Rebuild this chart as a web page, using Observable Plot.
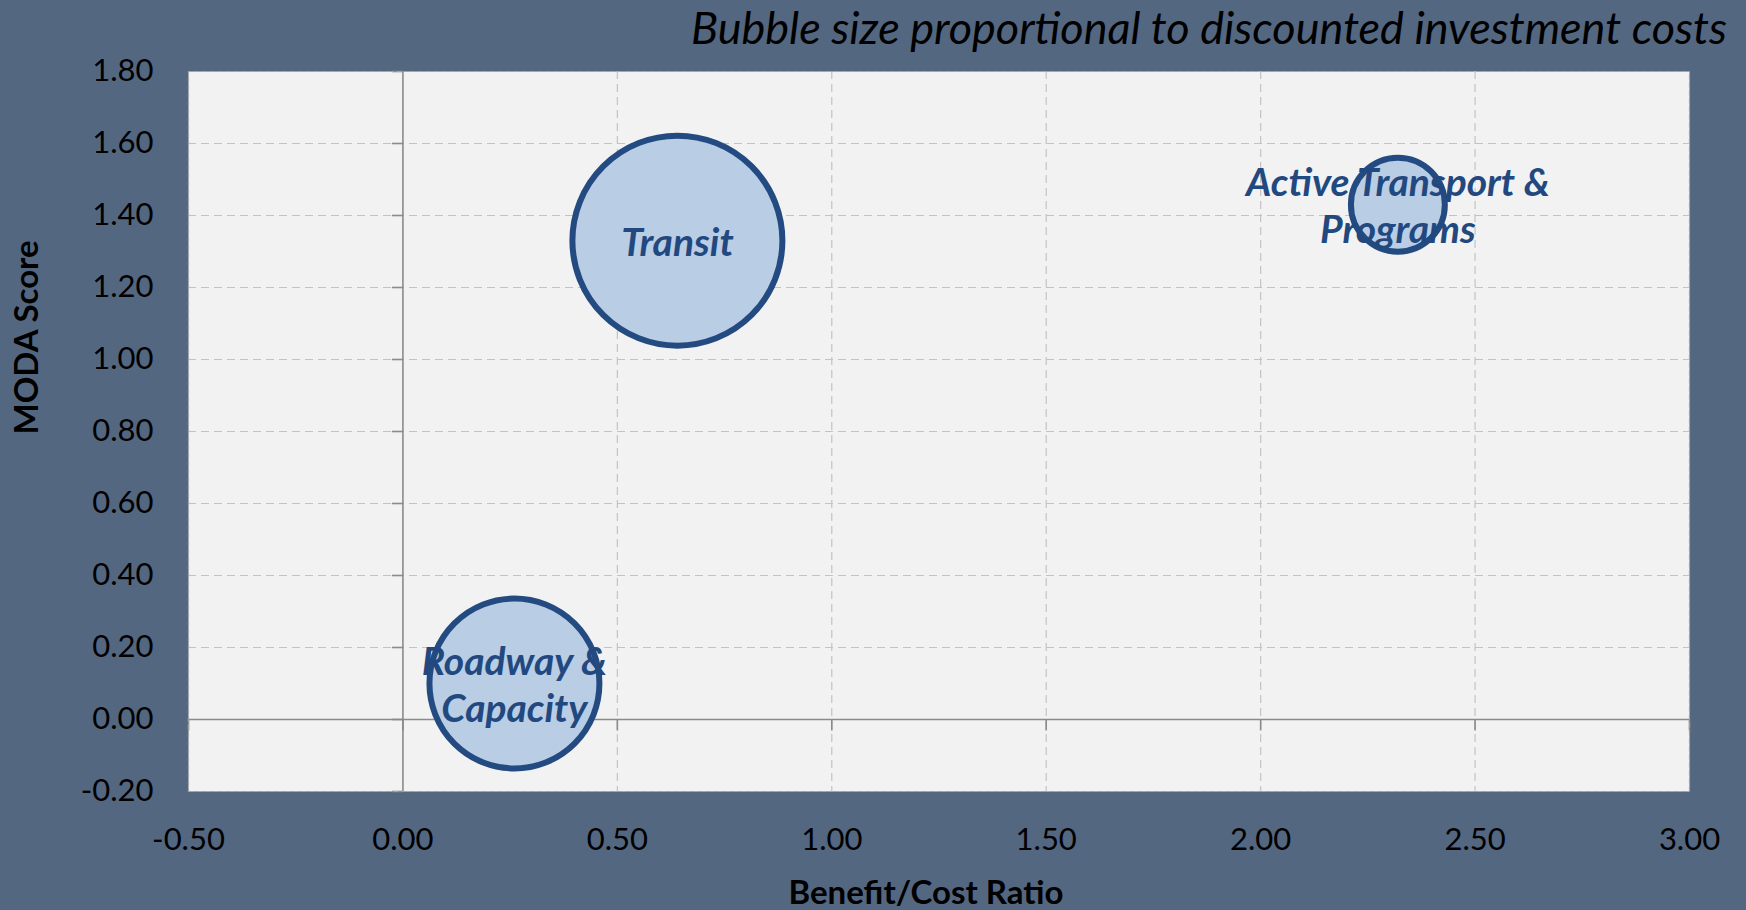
<!DOCTYPE html>
<html>
<head>
<meta charset="utf-8">
<script src="https://cdn.jsdelivr.net/npm/d3@7"></script>
<script src="https://cdn.jsdelivr.net/npm/@observablehq/plot@0.6"></script>
<style>
  html, body { margin: 0; padding: 0; background: #546780; }
  #chart { width: 1746px; height: 910px; background: #546780; overflow: hidden; }
  #title {
    height: 50px; line-height: 54px;
    font-family: Lato, sans-serif; font-style: italic; font-size: 45px;
    color: #000; text-align: right; padding-right: 19px; white-space: nowrap;
  }
</style>
</head>
<body>
<div id="chart">
  <div id="title">Bubble size proportional to discounted investment costs</div>
</div>
<script>
// Program groups and their scores
const projects = ["Transit", "Roadway &\nCapacity", "Active Transport &\nPrograms"];
const bcRatio = [0.64, 0.26, 2.32];        // benefit/cost ratio
const modaScore = [1.33, 0.10, 1.43];      // MODA score
const relativeCost = [100, 65.5, 20];      // discounted investment cost (relative)

// Axis ticks
const xTicks = [-0.5, 0, 0.5, 1, 1.5, 2, 2.5, 3];
const yTicks = [-0.2, 0, 0.2, 0.4, 0.6, 0.8, 1.0, 1.2, 1.4, 1.6, 1.8];

const rows = projects.map((name, i) => ({
  name, x: bcRatio[i], y: modaScore[i], cost: relativeCost[i]
}));

// Short cross ticks drawn on the zero axes
const leftTick = { draw(ctx) { ctx.moveTo(-11, 0); ctx.lineTo(0, 0); } };
const downTick = { draw(ctx) { ctx.moveTo(0, 0); ctx.lineTo(0, 11); } };

const gridStyle = { stroke: "#c3c3c3", strokeDasharray: "8,5", strokeWidth: 1.2 };
const zeroStyle = { stroke: "#8a8a8a", strokeWidth: 1.6 };
const fmt = d => d.toFixed(2);

const chart = Plot.plot({
  width: 1746,
  height: 860,
  marginTop: 21,
  marginBottom: 119,
  marginLeft: 188,
  marginRight: 57,
  style: { fontFamily: "Lato, sans-serif", fontSize: "31px", color: "#000", background: "transparent", overflow: "visible" },
  x: { domain: [-0.5, 3] },
  y: { domain: [-0.2, 1.8] },
  r: { type: "sqrt", domain: [0, 100], range: [0, 105] },
  marks: [
    Plot.frame({ fill: "#f2f2f2", stroke: null }),
    Plot.ruleX(xTicks.filter(d => d !== 0 && d !== -0.5 && d !== 3), gridStyle),
    Plot.ruleY(yTicks.filter(d => d !== 0 && d !== -0.2 && d !== 1.8), gridStyle),
    Plot.ruleX([0], zeroStyle),
    Plot.ruleY([0], zeroStyle),
    Plot.dot(yTicks, { x: 0, y: d => d, symbol: leftTick, fill: "none", ...zeroStyle }),
    Plot.dot(xTicks, { x: d => d, y: 0, symbol: downTick, fill: "none", ...zeroStyle }),
    Plot.frame({ stroke: "#a3a3a3", strokeDasharray: "5,3", strokeWidth: 1.2 }),
    Plot.dot(rows, {
      x: "x", y: "y", r: "cost",
      fill: "#b9cde5", stroke: "#234b82", strokeWidth: 6
    }),
    Plot.text(rows, {
      x: "x", y: "y", text: "name",
      fill: "#22497f", fontWeight: "bold", fontStyle: "italic",
      fontSize: 39, lineHeight: 1.2
    }),
    Plot.axisX({
      ticks: xTicks, tickFormat: fmt, tickSize: 0, tickPadding: 36,
      fontSize: 31, label: null
    }),
    Plot.axisY({
      ticks: yTicks, tickFormat: fmt, tickSize: 0, tickPadding: 35,
      fontSize: 31, label: null
    }),
    Plot.text(["MODA Score"], {
      text: d => d, frameAnchor: "left", rotate: -90,
      textAnchor: "middle", lineAnchor: "middle",
      dx: -161, dy: -94, fontWeight: "bold", fontSize: 33, fill: "#000"
    }),
    Plot.text(["Benefit/Cost Ratio"], {
      text: d => d, frameAnchor: "bottom",
      textAnchor: "middle", lineAnchor: "middle",
      dx: -13, dy: 102, fontWeight: "bold", fontSize: 33, fill: "#000"
    })
  ]
});

document.getElementById("chart").appendChild(chart);
</script>
</body>
</html>
